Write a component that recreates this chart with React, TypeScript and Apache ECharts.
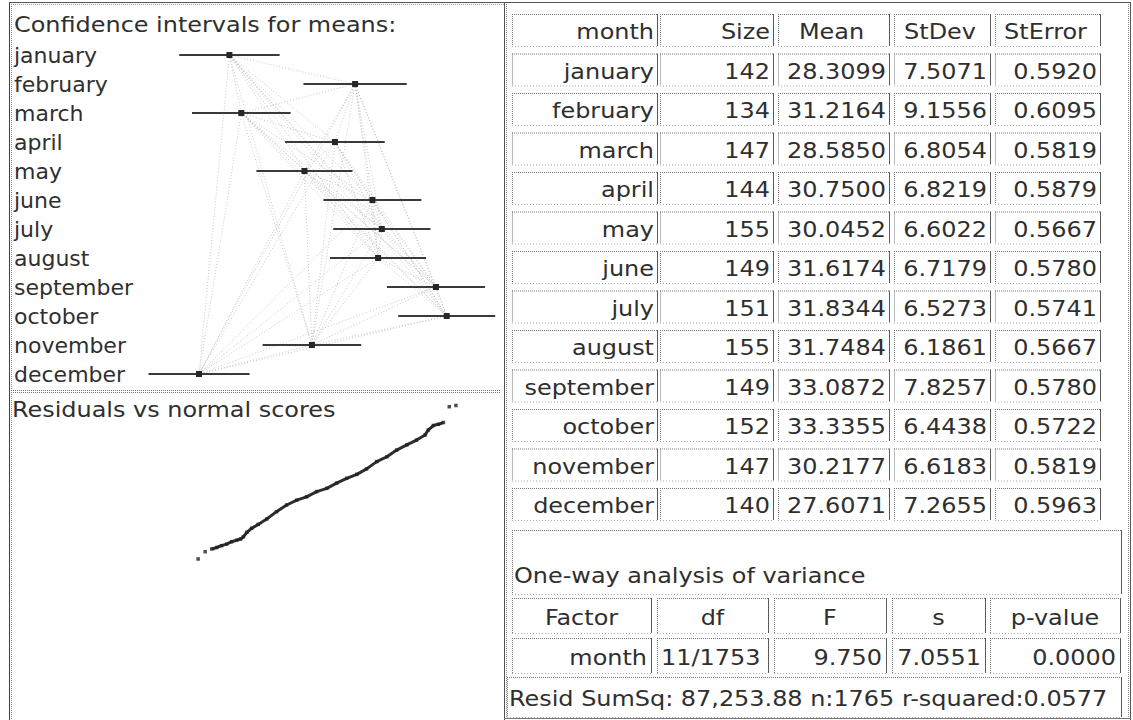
import React, { useEffect, useRef } from "react";
import * as echarts from "echarts";

// ---------- data ----------
const months = [
  "january", "february", "march", "april", "may", "june",
  "july", "august", "september", "october", "november", "december",
];
const sizes = [142, 134, 147, 144, 155, 149, 151, 155, 149, 152, 147, 140];
const means = [
  28.3099, 31.2164, 28.585, 30.75, 30.0452, 31.6174,
  31.8344, 31.7484, 33.0872, 33.3355, 30.2177, 27.6071,
];
const stDevs = [
  7.5071, 9.1556, 6.8054, 6.8219, 6.6022, 6.7179,
  6.5273, 6.1861, 7.8257, 6.4438, 6.6183, 7.2655,
];
const stErrors = [
  0.592, 0.6095, 0.5819, 0.5879, 0.5667, 0.578,
  0.5741, 0.5667, 0.578, 0.5722, 0.5819, 0.5963,
];
const tableHeaders = ["month", "Size", "Mean", "StDev", "StError"];
const anovaTitle = "One-way analysis of variance";
const anovaHeaders = ["Factor", "df", "F", "s", "p-value"];
const anovaRow = ["month", "11/1753", "9.750", "7.0551", "0.0000"];
const residSummary = "Resid SumSq: 87,253.88 n:1765 r-squared:0.0577";
const ciTitle = "Confidence intervals for means:";
const residTitle = "Residuals vs normal scores";
const zCrit = 1.96;

// residuals vs normal scores
const normalScores = [
  -3.33, -3.15, -2.98, -2.85, -2.73, -2.6, -2.47, -2.34, -2.24, -2.17, -2.08, -1.96,
  -1.79, -1.57, -1.32, -1.06, -0.8, -0.55, -0.29, -0.03, 0.22, 0.48, 0.74, 0.99,
  1.25, 1.51, 1.76, 2.02, 2.27, 2.49, 2.57, 2.7, 2.83, 2.96, 3.11, 3.28,
];
const residuals = [
  -23.4, -21.0, -20.1, -19.6, -19.0, -18.5, -17.7, -17.2, -16.8, -16.1, -14.6, -13.3,
  -12.0, -10.2, -7.8, -5.6, -4.0, -2.9, -1.2, -0.1, 1.6, 3.2, 4.5, 6.3,
  8.7, 10.3, 12.5, 14.2, 15.8, 17.5, 19.1, 20.6, 21.0, 21.6, 26.8, 27.2,
];

const FONT = "DejaVu Sans";
const FS = 21;
const SX = 1.14;
const TXT = "#2f2f2f";

function buildOption() {
  const ciData = months.map((_, i) => [
    means[i] - zCrit * stErrors[i],
    means[i] + zCrit * stErrors[i],
    means[i],
    i,
  ]);
  const webData: number[][] = [];
  for (let i = 0; i < months.length; i++) {
    for (let j = i + 1; j < months.length; j++) {
      webData.push([means[i], i, means[j], j]);
    }
  }
  const qq = normalScores.map((s, i) => [s, residuals[i]]);

  const g: any[] = [];
  const text = (x: number, y: number, t: string, align = "left") => ({
    type: "text",
    x,
    y,
    scaleX: SX,
    style: { text: t, fill: TXT, font: `${FS}px "${FONT}"`, textAlign: align, textVerticalAlign: "middle" },
    z: 10,
  });
  const hline = (x1: number, x2: number, y: number, color = "#555", dash: any = null) => ({
    type: "line",
    shape: { x1, y1: y + 0.5, x2, y2: y + 0.5 },
    style: { stroke: color, lineWidth: 1, lineDash: dash },
    z: 6,
  });
  const vline = (x: number, y1: number, y2: number, color = "#555", dash: any = null) => ({
    type: "line",
    shape: { x1: x + 0.5, y1, x2: x + 0.5, y2 },
    style: { stroke: color, lineWidth: 1, lineDash: dash },
    z: 6,
  });
  const cell = (x: number, y: number, w: number, h: number) => {
    g.push(hline(x, x + w, y, "#777", [1, 1]));
    g.push(vline(x, y, y + h, "#777", [1, 1]));
    g.push(vline(x + w, y, y + h, "#5a5a5a"));
    g.push(hline(x, x + w, y + h, "#aaa", [1, 2]));
  };

  // frames
  g.push(vline(9, 2, 720, "#444"), vline(11, 2, 720, "#888", [1, 1]));
  g.push(hline(9, 504, 2, "#555"), hline(11, 504, 4, "#999", [1, 1]));
  g.push(hline(11, 500, 390, "#777", [1, 1]), hline(11, 500, 392, "#777", [1, 1]));
  g.push(vline(504, 2, 720, "#555"), vline(506, 2, 720, "#888", [1, 1]));
  g.push(vline(1128, 2, 720, "#888", [1, 1]), vline(1130, 2, 720, "#555"));
  g.push(hline(504, 1131, 2, "#555"), hline(504, 1131, 718, "#777"));

  // titles of left panels
  g.push(text(14, 25, ciTitle));
  g.push(text(12, 410, residTitle));

  // table
  const colL = [512, 660, 778, 894, 995];
  const colR = [657, 773, 889, 990, 1100];
  const headAlign = ["right", "right", "center", "center", "center"];
  const rowTop = (r: number) => 14 + 39.5 * r;
  const rowH = 32;
  const xFor = (c: number, align: string) =>
    align === "right" ? colR[c] - 3 : align === "center" ? (colL[c] + colR[c]) / 2 - 2 : colL[c] + 3;
  for (let c = 0; c < 5; c++) {
    cell(colL[c], rowTop(0), colR[c] - colL[c], rowH);
    const a = headAlign[c];
    g.push(text(xFor(c, a), rowTop(0) + 18, tableHeaders[c], a));
  }
  months.forEach((m, i) => {
    const r = i + 1;
    const vals = [
      m,
      String(sizes[i]),
      means[i].toFixed(4),
      stDevs[i].toFixed(4),
      stErrors[i].toFixed(4),
    ];
    for (let c = 0; c < 5; c++) {
      cell(colL[c], rowTop(r), colR[c] - colL[c], rowH);
      g.push(text(xFor(c, "right"), rowTop(r) + 18, vals[c], "right"));
    }
  });

  // anova block
  cell(512, 530, 609, 64);
  g.push(text(514, 576, anovaTitle));
  const aL = [512, 657, 774, 892, 990];
  const aR = [651, 768, 886, 985, 1120];
  const rowAlign = ["right", "left", "right", "right", "right"];
  for (let c = 0; c < 5; c++) {
    cell(aL[c], 598, aR[c] - aL[c], 35);
    g.push(text((aL[c] + aR[c]) / 2, 618, anovaHeaders[c], "center"));
    cell(aL[c], 638, aR[c] - aL[c], 35);
    const ax = rowAlign[c] === "right" ? aR[c] - 4 : aL[c] + 4;
    g.push(text(ax, 658, anovaRow[c], rowAlign[c]));
  }
  cell(507, 677, 614, 40);
  g.push(text(509, 699, residSummary));

  return {
    animation: false,
    backgroundColor: "#ffffff",
    textStyle: { fontFamily: FONT },
    grid: [
      { left: 86.3, top: 40.5, width: 432.4, height: 348, containLabel: false },
      { left: 172, top: 397, width: 312, height: 182, containLabel: false },
    ],
    xAxis: [
      { type: "value", gridIndex: 0, min: 25, max: 35, show: false, splitLine: { show: false } },
      { type: "value", gridIndex: 1, min: -4, max: 4, show: false, splitLine: { show: false } },
    ],
    yAxis: [
      {
        type: "category", gridIndex: 0, data: months, inverse: true,
        axisLine: { show: false }, axisTick: { show: false }, splitLine: { show: false },
        axisLabel: {
          interval: 0, hideOverlap: false,
          align: "left", margin: 86.3 - 14, color: TXT,
          fontFamily: FONT, fontSize: 22, verticalAlign: "middle",
          padding: [0, 0, 5, 0],
        },
      },
      { type: "value", gridIndex: 1, min: -30, max: 30, show: false, splitLine: { show: false } },
    ],
    series: [
      {
        type: "custom",
        xAxisIndex: 0, yAxisIndex: 0,
        data: webData,
        encode: { x: [0, 2], y: [1, 3] },
        silent: true,
        renderItem: (_p: any, api: any) => {
          const a = api.coord([api.value(0), api.value(1)]);
          const b = api.coord([api.value(2), api.value(3)]);
          return {
            type: "line",
            shape: { x1: a[0], y1: a[1], x2: b[0], y2: b[1] },
            style: { stroke: "#b5b5b5", lineWidth: 1, lineDash: [1, 2], opacity: 0.75 },
          };
        },
        z: 1,
      },
      {
        type: "custom",
        xAxisIndex: 0, yAxisIndex: 0,
        data: ciData,
        encode: { x: [0, 1, 2], y: 3 },
        renderItem: (_p: any, api: any) => {
          const idx = api.value(3);
          const lo = api.coord([api.value(0), idx]);
          const hi = api.coord([api.value(1), idx]);
          const m = api.coord([api.value(2), idx]);
          return {
            type: "group",
            children: [
              {
                type: "line",
                shape: { x1: lo[0], y1: lo[1], x2: hi[0], y2: hi[1] },
                style: { stroke: "#3a3a3a", lineWidth: 2 },
              },
              {
                type: "rect",
                shape: { x: m[0] - 3, y: m[1] - 3, width: 6, height: 6 },
                style: { fill: "#262626" },
              },
            ],
          };
        },
        z: 3,
      },
      {
        type: "line",
        xAxisIndex: 1, yAxisIndex: 1,
        data: qq.slice(2, 34),
        showSymbol: false,
        lineStyle: { color: "#2e2e2e", width: 3 },
        z: 3,
      },
      {
        type: "scatter",
        xAxisIndex: 1, yAxisIndex: 1,
        data: qq,
        symbol: "rect",
        symbolSize: 3.5,
        itemStyle: { color: "#222" },
        z: 4,
      },
    ],
    graphic: g,
  };
}

export default function App() {
  const ref = useRef<HTMLDivElement>(null);
  useEffect(() => {
    if (!ref.current) return;
    const chart = echarts.init(ref.current, null, { renderer: "svg" });
    chart.setOption(buildOption() as any);
    return () => chart.dispose();
  }, []);
  return (
    <div
      ref={ref}
      style={{ position: "fixed", left: 0, top: 0, width: 1133, height: 720, background: "#fff" }}
    />
  );
}
